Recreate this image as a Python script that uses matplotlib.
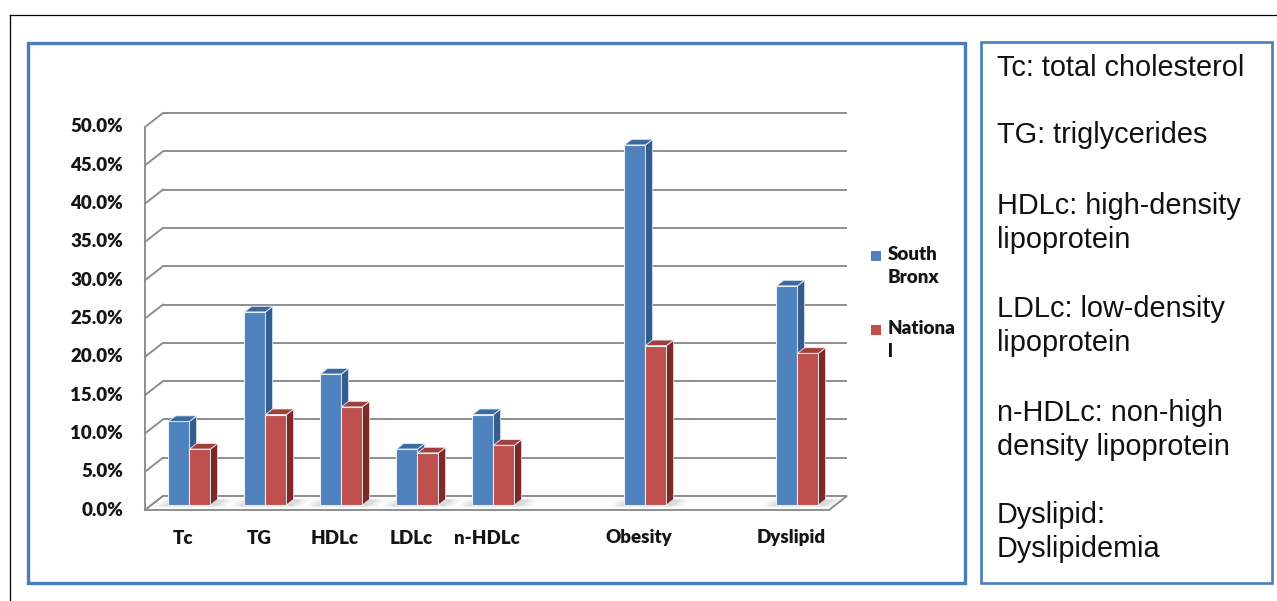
import matplotlib
matplotlib.use("Agg")
import matplotlib.pyplot as plt
from matplotlib.patches import Rectangle, Polygon
import numpy as np

# ---- data -------------------------------------------------------------
categories = ["Tc", "TG", "HDLc", "LDLc", "n-HDLc", "Obesity", "Dyslipid"]
south_bronx = [10.9, 25.2, 17.1, 7.3, 11.8, 47.0, 28.6]
national = [7.3, 11.8, 12.8, 6.8, 7.8, 20.8, 19.8]
series_names = ["South\nBronx", "Nationa\nl"]
y_ticks = [0, 5, 10, 15, 20, 25, 30, 35, 40, 45, 50]
glossary = [
    ["Tc: total cholesterol"],
    ["TG: triglycerides"],
    ["HDLc: high-density", "lipoprotein"],
    ["LDLc: low-density", "lipoprotein"],
    ["n-HDLc: non-high", "density lipoprotein"],
    ["Dyslipid:", "Dyslipidemia"],
]

# ---- layout -------------------------------------------------------------
W, H = 1277, 601
fig = plt.figure(figsize=(W / 100, H / 100), dpi=100)
fig.patch.set_facecolor("white")


def fx(px):
    return px / W


def fy(py):
    return 1 - py / H


# category slots (two empty slots separate the last two groups)
slots = [0, 1, 2, 3, 4, 6, 8]

ax_left, ax_right = 145, 829
ax_top, ax_bottom = 127, 510
ax = fig.add_axes([fx(ax_left), fy(ax_bottom), fx(ax_right - ax_left),
                   (ax_bottom - ax_top) / H])
ax.set_xlim(-0.5, 8.5)
ax.set_ylim(0, 50)
ax.axis("off")

px_per_x = (ax_right - ax_left) / 9.0
px_per_y = (ax_bottom - ax_top) / 50.0
# oblique depth of the 3-D box (in data units)
DX = 18 / px_per_x
DY = 14 / px_per_y

grid_c = "#8E8E8E"
grid_lw = 1.4

# back wall gridlines + side wall diagonals
for t in y_ticks:
    ax.plot([-0.5 + DX, 8.5 + DX], [t + DY, t + DY], color=grid_c,
            lw=grid_lw, clip_on=False, zorder=1, solid_capstyle="butt")
    ax.plot([-0.5, -0.5 + DX], [t, t + DY], color=grid_c, lw=grid_lw,
            clip_on=False, zorder=1)
# front-left edge
ax.plot([-0.5, -0.5], [0, 50], color=grid_c, lw=grid_lw, clip_on=False,
        zorder=1)
# floor
ax.add_patch(Polygon([(-0.5, 0), (8.5, 0), (8.5 + DX, DY), (-0.5 + DX, DY)],
                     closed=True, facecolor="white", edgecolor=grid_c,
                     lw=grid_lw, clip_on=False, zorder=1.5))

# bars
w = 21 / px_per_x
d0, d1 = 0.36, 0.76
base = d0 * DY
ox = d0 * DX
ddx = (d1 - d0) * DX
ddy = (d1 - d0) * DY

face_cols = [("#4F81BD", "#345C8C", "#3D6A9E"),
             ("#C0504D", "#7E2A28", "#A23F3C")]
edge_c = "#E6EEF6"

for k, (s, vb, vn) in enumerate(zip(slots, south_bronx, national)):
    cx = s + ox
    # soft floor shadow around the cluster (a few stacked translucent layers)
    for g, (ext, a) in enumerate([(0.20, 0.10), (0.13, 0.14), (0.07, 0.18)]):
        ax.add_patch(Polygon(
            [(cx - w - ext, base - 0.2), (cx + w + ext, base - 0.2),
             (cx + w + ext + ddx * 1.3, base + ddy),
             (cx - w - ext + ddx * 1.3, base + ddy)],
            closed=True, facecolor="#9A9A9A", edgecolor="none", alpha=a,
            clip_on=False, zorder=1.8))
    for j, v in enumerate([vb, vn]):
        x0 = cx - w + j * w
        x1 = x0 + w
        front, side, top = face_cols[j]
        ax.bar(x0, v, width=w, bottom=base, align="edge", color=front,
               edgecolor=edge_c, lw=0.8, zorder=3 + 2 * k + j * 0.5,
               clip_on=False)
        y1 = base + v
        ax.add_patch(Polygon([(x1, base), (x1, y1), (x1 + ddx, y1 + ddy),
                              (x1 + ddx, base + ddy)], closed=True,
                             facecolor=side, edgecolor=edge_c, lw=0.6,
                             zorder=3 + 2 * k + j * 0.5, clip_on=False))
        ax.add_patch(Polygon([(x0, y1), (x1, y1), (x1 + ddx, y1 + ddy),
                              (x0 + ddx, y1 + ddy)], closed=True,
                             facecolor=top, edgecolor=edge_c, lw=0.6,
                             zorder=3 + 2 * k + j * 0.5, clip_on=False))

lab_font = dict(family=["Lato", "DejaVu Sans"], weight="heavy", size=13.5,
                color="#151515")

# y tick labels
for t in y_ticks:
    ax.text(-0.5 - 22 / px_per_x, t, f"{t:.1f}%", ha="right", va="center",
            clip_on=False, **lab_font)

# category labels
for s, c in zip(slots, categories):
    ax.text(s, -28 / px_per_y, c, ha="center", va="center", clip_on=False,
            **lab_font)

# legend
leg_y = [256, 330]
for j, (name, yy) in enumerate(zip(series_names, leg_y)):
    fig.patches.append(Rectangle((fx(871), fy(yy + 5)), fx(10), 10 / H,
                                 transform=fig.transFigure,
                                 facecolor=face_cols[j][0], edgecolor="none"))
    fig.text(fx(888), fy(yy - 10), name, ha="left", va="top",
             linespacing=1.4, **lab_font)

# chart frame and glossary frame
blue = "#4A7EBB"
fig.patches.append(Rectangle((fx(28), fy(583)), fx(965 - 28), (583 - 42.5) / H,
                             transform=fig.transFigure, fill=False,
                             edgecolor=blue, lw=2.4))
fig.patches.append(Rectangle((fx(980.5), fy(583)), fx(1272 - 980.5),
                             (583 - 42) / H, transform=fig.transFigure,
                             fill=False, edgecolor=blue, lw=1.9))

# outer thin frame lines
fig.add_artist(plt.Line2D([fx(10), 1.0], [fy(15), fy(15)], color="black",
                          lw=0.9, transform=fig.transFigure))
fig.add_artist(plt.Line2D([fx(10), fx(10)], [0.0, fy(15)], color="black",
                          lw=0.9, transform=fig.transFigure))

# glossary text
gl_font = dict(family=["Liberation Sans", "DejaVu Sans"], size=20.8,
               color="#111111")
entry_y = [68, 135, 206, 309, 413, 515]
for lines, yy in zip(glossary, entry_y):
    for i, line in enumerate(lines):
        fig.text(fx(997), fy(yy + i * 33.7), line, ha="left", va="center",
                 **gl_font)

fig.savefig("out.png", dpi=100, facecolor="white")
